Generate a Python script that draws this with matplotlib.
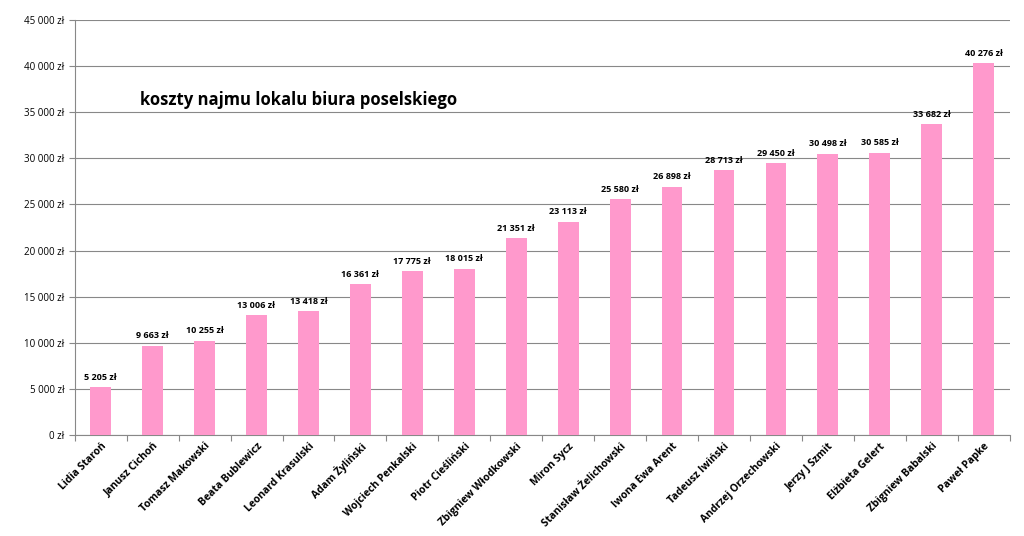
import matplotlib
matplotlib.use("Agg")
import matplotlib.pyplot as plt
from matplotlib.ticker import FuncFormatter, MultipleLocator

names = ["Lidia Staroń", "Janusz Cichoń", "Tomasz Makowski", "Beata Bublewicz", "Leonard Krasulski",
         "Adam Żyliński", "Wojciech Penkalski", "Piotr Cieśliński", "Zbigniew Włodkowski", "Miron Sycz",
         "Stanisław Żelichowski", "Iwona Ewa Arent", "Tadeusz Iwiński", "Andrzej Orzechowski",
         "Jerzy J Szmit", "Elżbieta Gelert", "Zbigniew Babalski", "Paweł Papke"]
values = [5205, 9663, 10255, 13006, 13418, 16361, 17775, 18015, 21351, 23113,
          25580, 26898, 28713, 29450, 30498, 30585, 33682, 40276]

def fmt(v):
    return f"{int(v):,}".replace(",", " ") + " zł"

plt.rcParams["font.family"] = "Open Sans"
fig = plt.figure(figsize=(10.24, 5.36), dpi=100)
ax = fig.add_axes([0.073, 0.188, 0.913, 0.775])
x = range(len(names))
ax.bar(x, values, width=0.4, color="#FF99CC", zorder=3)
for i, v in zip(x, values):
    ax.text(i, v + 600, fmt(v), ha="center", va="bottom", fontsize=6.5, fontweight="bold")
ax.set_ylim(0, 45000)
ax.set_xlim(-0.5, len(names) - 0.5)
ax.yaxis.set_major_locator(MultipleLocator(5000))
ax.yaxis.set_major_formatter(FuncFormatter(lambda v, p: fmt(v)))
ax.grid(axis="y", color="#888888", linewidth=0.8, zorder=0)
for s in ["top", "right"]:
    ax.spines[s].set_visible(False)
ax.spines["left"].set_color("#888888")
ax.spines["bottom"].set_color("#888888")
ax.set_xticks([i + 0.5 for i in range(-1, len(names))], minor=False)
ax.set_xticklabels([])
ax.set_xticks(list(x), minor=True)
ax.set_xticklabels(names, minor=True, rotation=45, ha="right", rotation_mode="anchor",
                   fontsize=7.5, fontweight="bold")
ax.tick_params(axis="x", which="minor", length=0, pad=4)
ax.tick_params(axis="x", which="major", length=4, color="#888888")
ax.tick_params(axis="y", labelsize=7, length=4, color="#888888")
fig.text(0.137, 0.805, "koszty najmu lokalu biura poselskiego", fontsize=12, fontweight="bold")
fig.savefig("out.png", dpi=100)
